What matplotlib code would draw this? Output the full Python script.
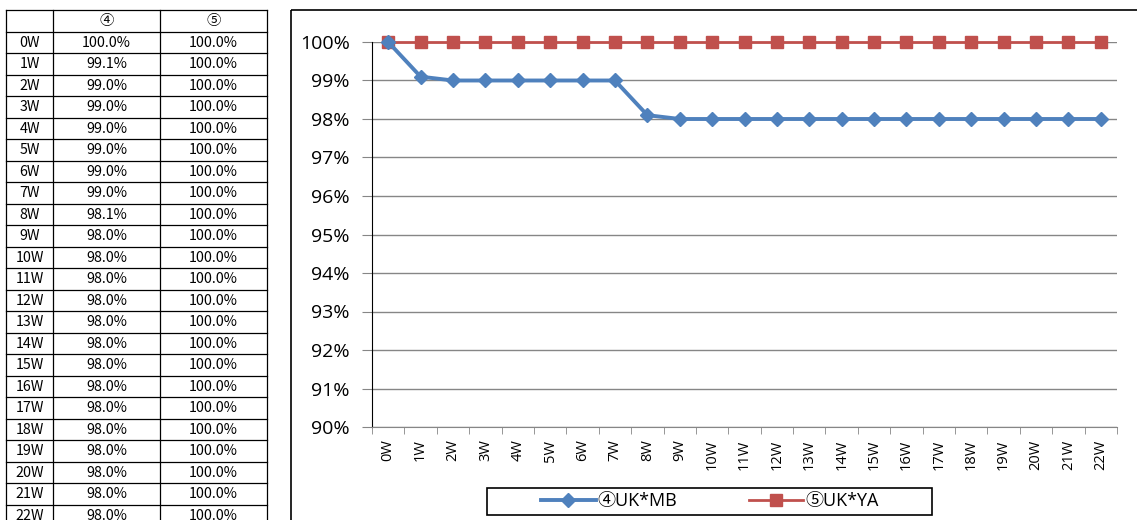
import matplotlib
matplotlib.use("Agg")
import matplotlib.pyplot as plt
from matplotlib.patches import Rectangle
from matplotlib.lines import Line2D

# --- data ---
weeks = [f"{i}W" for i in range(23)]
mb_values = [100.0, 99.1, 99.0, 99.0, 99.0, 99.0, 99.0, 99.0, 98.1] + [98.0] * 14
ya_values = [100.0] * 23
col_headers = ["④", "⑤"]
series_labels = ["④UK*MB", "⑤UK*YA"]
y_ticks = [90, 91, 92, 93, 94, 95, 96, 97, 98, 99, 100]

BLUE = "#4F81BD"
RED = "#C0504D"
GRID = "#868686"
LATIN = ["Open Sans", "Noto Sans CJK JP", "DejaVu Sans"]
TABLE_FONT = ["Noto Sans CJK JP", "DejaVu Sans"]

W, H = 1137, 520
fig = plt.figure(figsize=(W / 100, H / 100), dpi=100)

# overlay in pixel coordinates for the table and the chart frame
ov = fig.add_axes([0, 0, 1, 1])
ov.set_xlim(0, W)
ov.set_ylim(H, 0)
ov.axis("off")

# table on the left
col_x = [6, 53, 160, 267]
row_h = 21.5
top = 10
n_rows = len(weeks) + 1
bottom = top + n_rows * row_h
for x in col_x:
    ov.plot([x, x], [top, bottom], color="black", lw=0.9)
for r in range(n_rows + 1):
    y = top + r * row_h
    ov.plot([col_x[0], col_x[-1]], [y, y], color="black", lw=0.9)

def cx(i):
    return (col_x[i] + col_x[i + 1]) / 2

TS = 10.3
for j, h in enumerate(col_headers):
    ov.text(cx(j + 1), top + row_h / 2 + 0.5, h, ha="center", va="center",
            fontsize=TS, family=TABLE_FONT)
for i, wk in enumerate(weeks):
    yc = top + (i + 1.5) * row_h + 0.5
    ov.text(cx(0), yc, wk, ha="center", va="center", fontsize=TS, family=TABLE_FONT)
    ov.text(cx(1), yc, f"{mb_values[i]:.1f}%", ha="center", va="center",
            fontsize=TS, family=TABLE_FONT)
    ov.text(cx(2), yc, f"{ya_values[i]:.1f}%", ha="center", va="center",
            fontsize=TS, family=TABLE_FONT)

# chart frame (runs off the right and bottom edges)
ov.add_patch(Rectangle((290.5, 10), 900, 600, fill=False, edgecolor="black", lw=1.2))

# chart
left_px, right_px, top_px, bot_px = 372, 1117, 42, 427
ax = fig.add_axes([left_px / W, 1 - bot_px / H,
                   (right_px - left_px) / W, (bot_px - top_px) / H])
xs = list(range(len(weeks)))
ax.plot(xs, ya_values, color=RED, lw=2, marker="s", markersize=8,
        clip_on=False, zorder=3)
ax.plot(xs, mb_values, color=BLUE, lw=2.8, marker="D", markersize=7,
        clip_on=False, zorder=4)

ax.set_xlim(-0.5, len(weeks) - 0.5)
ax.set_ylim(90, 100)
ax.set_yticks(y_ticks)
ax.set_yticklabels([f"{v}%" for v in y_ticks], fontsize=14, family=LATIN)
ax.yaxis.grid(True, color=GRID, lw=1)
ax.set_axisbelow(True)

ax.set_xticks(xs)
ax.set_xticklabels(weeks, rotation=90, fontsize=10.5, family=LATIN)
ax.set_xticks([x - 0.5 for x in xs] + [len(weeks) - 0.5], minor=True)
ax.tick_params(axis="x", which="major", length=0, pad=9)
ax.tick_params(axis="x", which="minor", length=5, color=GRID, direction="out")
ax.tick_params(axis="y", length=7, color=GRID, direction="out", pad=9)

for s in ("top", "right"):
    ax.spines[s].set_visible(False)
ax.spines["left"].set_color("black")
ax.spines["bottom"].set_color(GRID)

# legend
ov.add_patch(Rectangle((487, 488), 445, 27, fill=False, edgecolor="black", lw=1.2))
handles = [
    Line2D([], [], color=BLUE, lw=2.8, marker="D", markersize=7),
    Line2D([], [], color=RED, lw=2, marker="s", markersize=8),
]
fig.legend(handles, series_labels, loc="center", ncol=2, frameon=False,
           bbox_to_anchor=(710 / W, 1 - 501 / H), handlelength=3,
           columnspacing=4, handletextpad=0.1,
           prop={"family": LATIN, "size": 13})

fig.savefig("out.png", dpi=100)
